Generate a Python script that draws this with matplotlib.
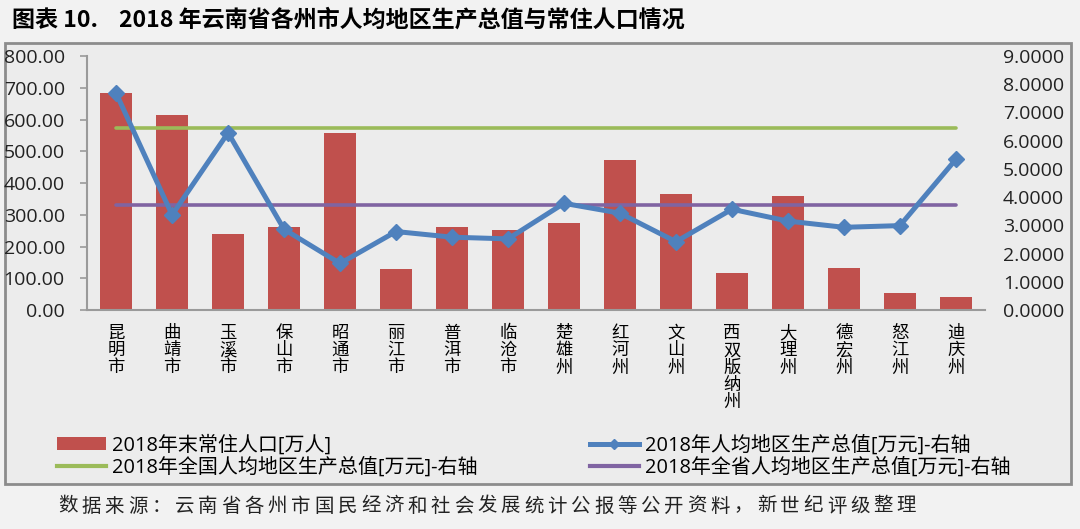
import matplotlib
matplotlib.use("Agg")
import matplotlib.pyplot as plt
from matplotlib.patches import Rectangle
from matplotlib.lines import Line2D
from matplotlib.patches import Patch
import numpy as np

plt.rcParams['font.family'] = ['Open Sans', 'Noto Sans CJK SC', 'DejaVu Sans']

# data
cities = ['昆明市', '曲靖市', '玉溪市', '保山市', '昭通市', '丽江市', '普洱市', '临沧市',
          '楚雄州', '红河州', '文山州', '西双版纳州', '大理州', '德宏州', '怒江州', '迪庆州']
population = [685.0, 615.0, 238.0, 261.0, 556.0, 129.0, 262.0, 253.0,
              274.0, 474.0, 364.0, 118.0, 360.0, 131.0, 55.0, 41.0]
gdp_per_capita = [7.68, 3.37, 6.28, 2.86, 1.65, 2.78, 2.58, 2.52,
                  3.78, 3.43, 2.42, 3.57, 3.15, 2.93, 2.99, 5.34]
national_avg = 6.46
province_avg = 3.71

RED = '#c0504d'
BLUE = '#4f81bd'
GREEN = '#9bbb59'
PURPLE = '#8064a2'
AXIS_GREY = '#9a9a9a'
CJK = ['Noto Sans CJK SC', 'DejaVu Sans']

fig = plt.figure(figsize=(10.8, 5.29), dpi=100)
fig.patch.set_facecolor('#f2f2f2')

# chart frame like the excel chart area
frame = Rectangle((5 / 1080, 1 - 484 / 529), 1066 / 1080, 441 / 529, transform=fig.transFigure,
                  facecolor='#ececec', edgecolor='#8c8c8c', linewidth=2, zorder=-5)
fig.patches.append(frame)

ax = fig.add_axes([87 / 1080, 1 - 310 / 529, 898 / 1080, 254 / 529])
ax.set_facecolor('none')
ax2 = ax.twinx()

x = np.arange(len(cities))
ax.bar(x, population, width=0.57, color=RED, zorder=2)
ax.set_ylim(0, 800)
ax.set_xlim(-0.52, len(cities) - 0.48)
ax.set_yticks(np.arange(0, 801, 100))
ax.set_yticklabels([f'{v:.2f}' for v in np.arange(0, 801, 100)], fontsize=14, color='#222222')
ax.set_xticks(x)
ax.set_xticklabels(['\n'.join(c) for c in cities], fontsize=12.5,
                   family=CJK, linespacing=0.95, va='top')
ax.tick_params(axis='x', length=0, pad=10)
ax.tick_params(axis='y', length=5, color=AXIS_GREY, width=1.2, pad=11)
for s in ['top', 'right']:
    ax.spines[s].set_visible(False)
for s in ['left', 'bottom']:
    ax.spines[s].set_color(AXIS_GREY)
    ax.spines[s].set_linewidth(1.5)

ax2.plot(x, [national_avg] * len(x), color=GREEN, lw=2.6, solid_capstyle='round', zorder=3)
ax2.plot(x, [province_avg] * len(x), color=PURPLE, lw=2.6, solid_capstyle='round', zorder=3)
ax2.plot(x, gdp_per_capita, color=BLUE, lw=3.6, marker='D', markersize=8, zorder=4)
ax2.set_ylim(0, 9)
ax2.set_yticks(np.arange(0, 10, 1))
ax2.set_yticklabels([f'{v:.4f}' for v in np.arange(0, 10, 1)], fontsize=14, color='#222222')
ax2.tick_params(axis='y', length=0, pad=13)
for s in ax2.spines.values():
    s.set_visible(False)

# legend, ordered so that the two columns read row by row
handles = [Patch(facecolor=RED, edgecolor='none'),
           Line2D([], [], color=GREEN, lw=3),
           Line2D([], [], color=BLUE, lw=3.6, marker='D', markersize=5),
           Line2D([], [], color=PURPLE, lw=3)]
labels = ['2018年末常住人口[万人]', '2018年全国人均地区生产总值[万元]-右轴',
          '2018年人均地区生产总值[万元]-右轴', '2018年全省人均地区生产总值[万元]-右轴']
fig.legend(handles, labels, loc='upper left', bbox_to_anchor=(57 / 1080, 1 - 435 / 529),
           ncol=2, frameon=False, handlelength=2.45, handleheight=0.6, handletextpad=0.3,
           columnspacing=5.6, labelspacing=0.12, borderaxespad=0, borderpad=0,
           prop={'family': ['Open Sans', 'Noto Sans CJK SC'], 'size': 14.4})

fig.text(12 / 1080, 1 - 20 / 529, '图表 10.    2018 年云南省各州市人均地区生产总值与常住人口情况',
         fontsize=16.6, fontweight='bold', va='center', ha='left', family=CJK)

# footer with the wide character spacing of the original
footer = '数据来源：云南省各州市国民经济和社会发展统计公报等公开资料，新世纪评级整理'
for i, ch in enumerate(footer):
    fig.text((58 + i * 23.3) / 1080, 1 - 506 / 529, ch, fontsize=14, va='center', ha='left',
             family=CJK, color='#222222')

fig.savefig('out.png', dpi=100, facecolor=fig.get_facecolor())
